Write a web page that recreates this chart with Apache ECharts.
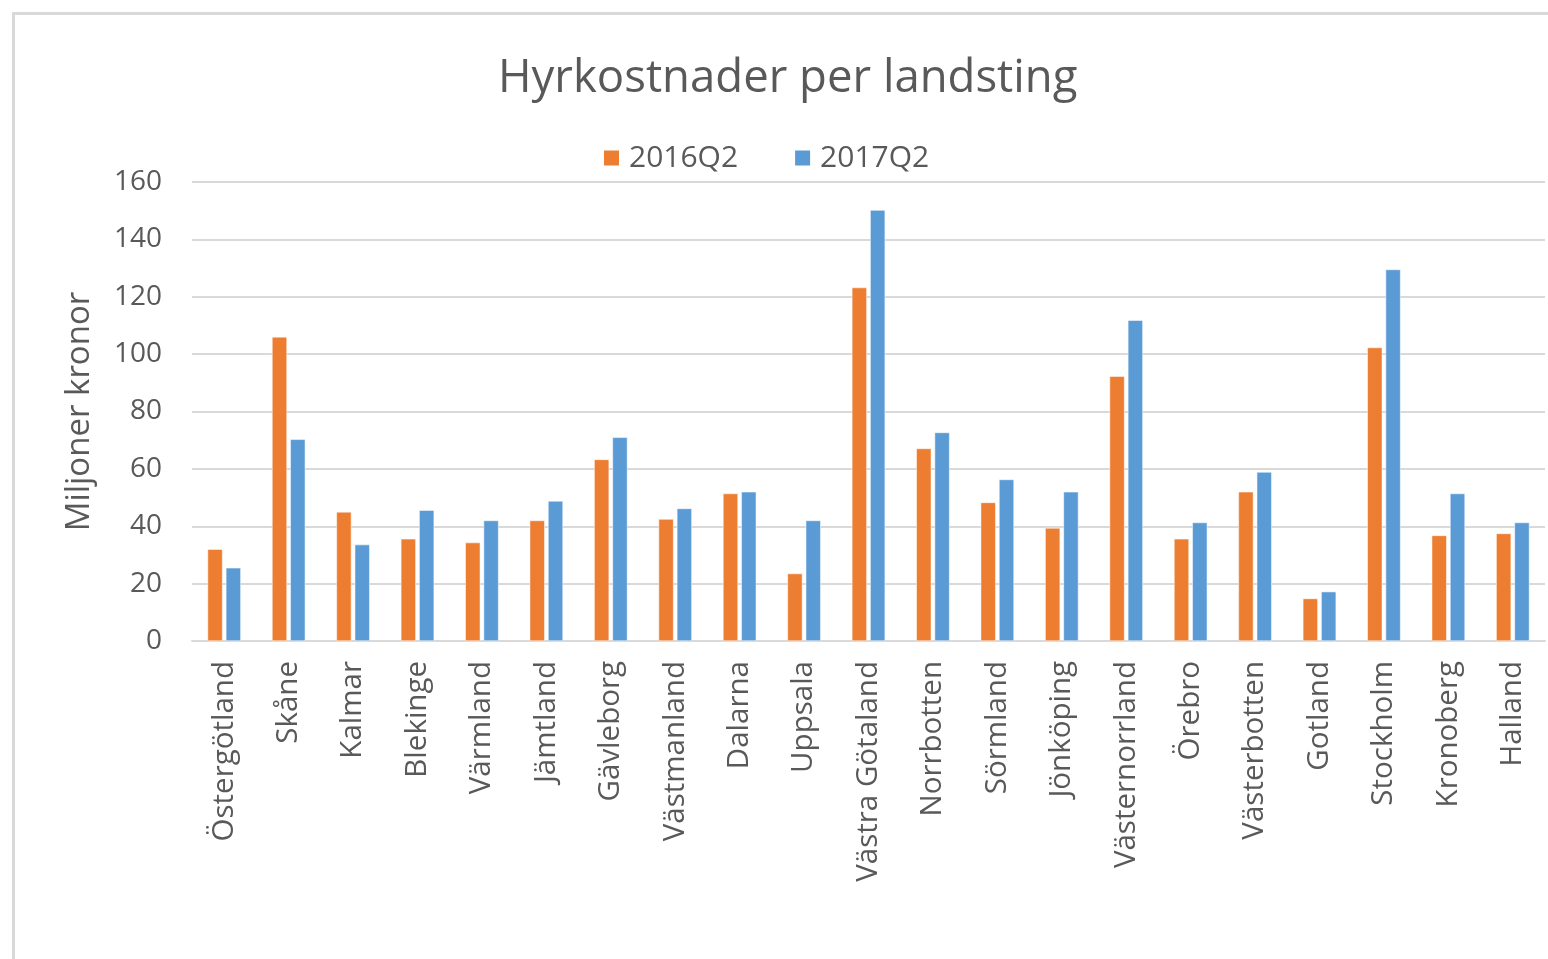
<!DOCTYPE html>
<html><head><meta charset="utf-8">
<script src="https://cdn.jsdelivr.net/npm/echarts@6/dist/echarts.min.js"></script>
<style>html,body{margin:0;padding:0;background:#fff}#c{width:1548px;height:959px}</style>
</head><body><div id="c"></div>
<script>
const categories = ["Östergötland","Skåne","Kalmar","Blekinge","Värmland","Jämtland","Gävleborg","Västmanland","Dalarna","Uppsala","Västra Götaland","Norrbotten","Sörmland","Jönköping","Västernorrland","Örebro","Västerbotten","Gotland","Stockholm","Kronoberg","Halland"];
const q2016 = [32, 106, 45, 35.6, 34.3, 42, 63.3, 42.5, 51.4, 23.5, 123.2, 67.1, 48.3, 39.4, 92.3, 35.6, 52, 14.8, 102.3, 36.8, 37.5];
const q2017 = [25.5, 70.3, 33.6, 45.6, 42, 48.8, 71, 46.2, 52, 42, 150.2, 72.7, 56.3, 52, 111.8, 41.3, 58.9, 17.2, 129.5, 51.4, 41.3];
const seriesNames = ["2016Q2", "2017Q2"];
const yTicks = {min: 0, max: 160, interval: 20};

const chart = echarts.init(document.getElementById('c'));
const font = "'Open Sans', sans-serif";
chart.setOption({
  animation: false,
  textStyle: {fontFamily: font},
  graphic: [{
    type: 'rect', left: 11, top: 11,
    shape: {width: 1600, height: 1000},
    style: {fill: 'none', stroke: '#d9d9d9', lineWidth: 3}
  }],
  title: {
    text: 'Hyrkostnader per landsting', left: 493, top: 51,
    textStyle: {fontFamily: font, fontSize: 45.5, fontWeight: 'normal', color: '#595959'}
  },
  legend: {
    top: 138, left: 597, itemWidth: 17, itemHeight: 17, itemGap: 55,
    icon: 'rect',
    textStyle: {fontFamily: font, fontSize: 30, color: '#595959', padding: [0, 0, 0, 4]},
    data: seriesNames
  },
  grid: {left: 192, right: 3, top: 182, bottom: 318},
  xAxis: {
    type: 'category', data: categories,
    axisLine: {lineStyle: {color: '#d9d9d9', width: 2}},
    axisTick: {show: false},
    axisLabel: {rotate: 90, interval: 0, fontSize: 29.5, color: '#595959', margin: 20, fontFamily: font}
  },
  yAxis: {
    type: 'value', min: yTicks.min, max: yTicks.max, interval: yTicks.interval,
    name: 'Miljoner kronor', nameLocation: 'middle', nameGap: 96, nameRotate: 90,
    nameTextStyle: {fontSize: 33, color: '#595959', fontFamily: font},
    axisLine: {show: false}, axisTick: {show: false},
    axisLabel: {fontSize: 28, color: '#595959', margin: 30, fontFamily: font},
    splitLine: {lineStyle: {color: '#d9d9d9', width: 2}}
  },
  series: [
    {name: seriesNames[0], type: 'bar', data: q2016, barWidth: 15, barGap: '22%',
     itemStyle: {color: '#ED7D31', borderColor: '#fff', borderWidth: 0.5}},
    {name: seriesNames[1], type: 'bar', data: q2017, barWidth: 15, barGap: '22%',
     itemStyle: {color: '#5B9BD5', borderColor: '#fff', borderWidth: 0.5}}
  ]
});
</script></body></html>
